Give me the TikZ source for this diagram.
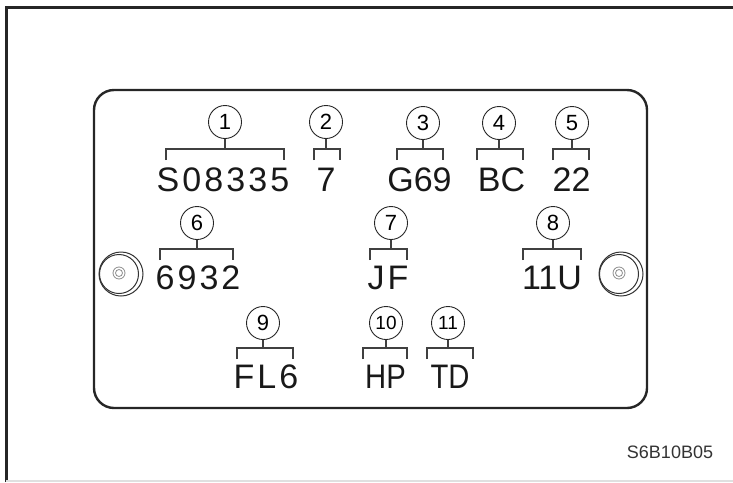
\documentclass[tikz,border=0pt]{standalone}
\usepackage{fontspec}
\setmainfont{Liberation Sans}
\newfontfamily\spacedfont[LetterSpace=9]{Liberation Sans}
\newcommand{\bigtxt}{\fontsize{34}{40}\selectfont}
\newcommand{\numtxt}{\fontsize{22}{26}\selectfont}
\newcommand{\numtxtsmall}{\fontsize{19}{22}\selectfont}
\begin{document}
\begin{tikzpicture}[x=1pt,y=-1pt,
  numc/.style={circle,draw=black!85,line width=0.9pt,minimum size=33pt,inner sep=0pt,font=\numtxt},
  numcs/.style={numc,font=\numtxtsmall},
  lbl/.style={anchor=base,inner sep=0pt,font=\bigtxt,text=black!90},
  nlbl/.style={lbl,xscale=0.86},
  slbl/.style={lbl,font=\bigtxt\spacedfont},
  brk/.style={draw=black!75,line width=1.1pt},
  plate/.style={draw=black!85,line width=2.4pt,rounded corners=20pt},
  frame/.style={draw=black!85,line width=3pt},
  screw/.style={draw=black!80,line width=1pt},
  screwin/.style={draw=black!45,line width=0.8pt}
]
\useasboundingbox (0,0) rectangle (733,482);
% frame
\coordinate (f2) at (733,7);
\coordinate (f3) at (6,482);
\draw[frame] (f3) -- (6,7) -- (f2);
\draw[draw=black!12,line width=1.2pt] (6,481) -- (733,481);
% plate
\draw[plate] (94,90) rectangle (647,408);
% screws
\foreach \n/\cx in {L/121,R/621}{
  \node[circle,screw,minimum size=44pt,inner sep=0pt] (screw\n) at (\cx,274) {};
  \draw[screw] (\cx-2,274) circle (19.5pt);
  \draw[screwin] (\cx-2,273) circle (6pt);
  \draw[screwin] (\cx-2,273) circle (3.5pt);
}
% circled numbers
\node[numc] (c1) at (225,122) {1};
\node[numc] (c2) at (326,122) {2};
\node[numc] (c3) at (423,123) {3};
\node[numc] (c4) at (499,123) {4};
\node[numc] (c5) at (572,123) {5};
\node[numc] (c6) at (197,223) {6};
\node[numc] (c7) at (391,223) {7};
\node[numc] (c8) at (553,223) {8};
\node[numc] (c9) at (263,323) {9};
\node[numcs] (c10) at (386,323) {10};
\node[numcs] (c11) at (448,323) {11};
% labels
\node[slbl] (t1) at (223,191) {S08335};
\node[lbl] (t2) at (326,191) {7};
\node[lbl] (t3) at (419.5,191) {G69};
\node[lbl] (t4) at (501.5,191) {BC};
\node[lbl] (t5) at (571.5,191) {22};
\node[slbl] (t6) at (198,289) {6932};
\node[slbl] (t7) at (388,289) {JF};
\node[lbl] (t8) at (552,289) {11U};
\node[slbl] (t9) at (266,388) {FL6};
\node[nlbl] (t10) at (385.5,388) {HP};
\node[nlbl] (t11) at (450,388) {TD};
% brackets
\foreach \i/\xl/\xr/\y in {1/166/284/149, 2/314/340/149, 3/397/443/149, 4/477/523/149, 5/553/589/149,
  6/160/233/249, 7/370/407/249, 8/523/581/249, 9/237/293/348, 10/363/407/348, 11/427/473/348}{
  \coordinate (bl\i) at (\xl,\y);
  \coordinate (br\i) at (\xr,\y);
  \draw[brk] ([yshift=-11pt]bl\i) -- (bl\i) -- (br\i) -- ([yshift=-11pt]br\i);
  \draw[brk] (c\i.south) -- (c\i.south |- bl\i);
}
% code
\node[anchor=base,inner sep=0pt,font=\fontsize{18}{21}\selectfont,text=black!80] (code) at (670,458) {S6B10B05};
\end{tikzpicture}
\end{document}
